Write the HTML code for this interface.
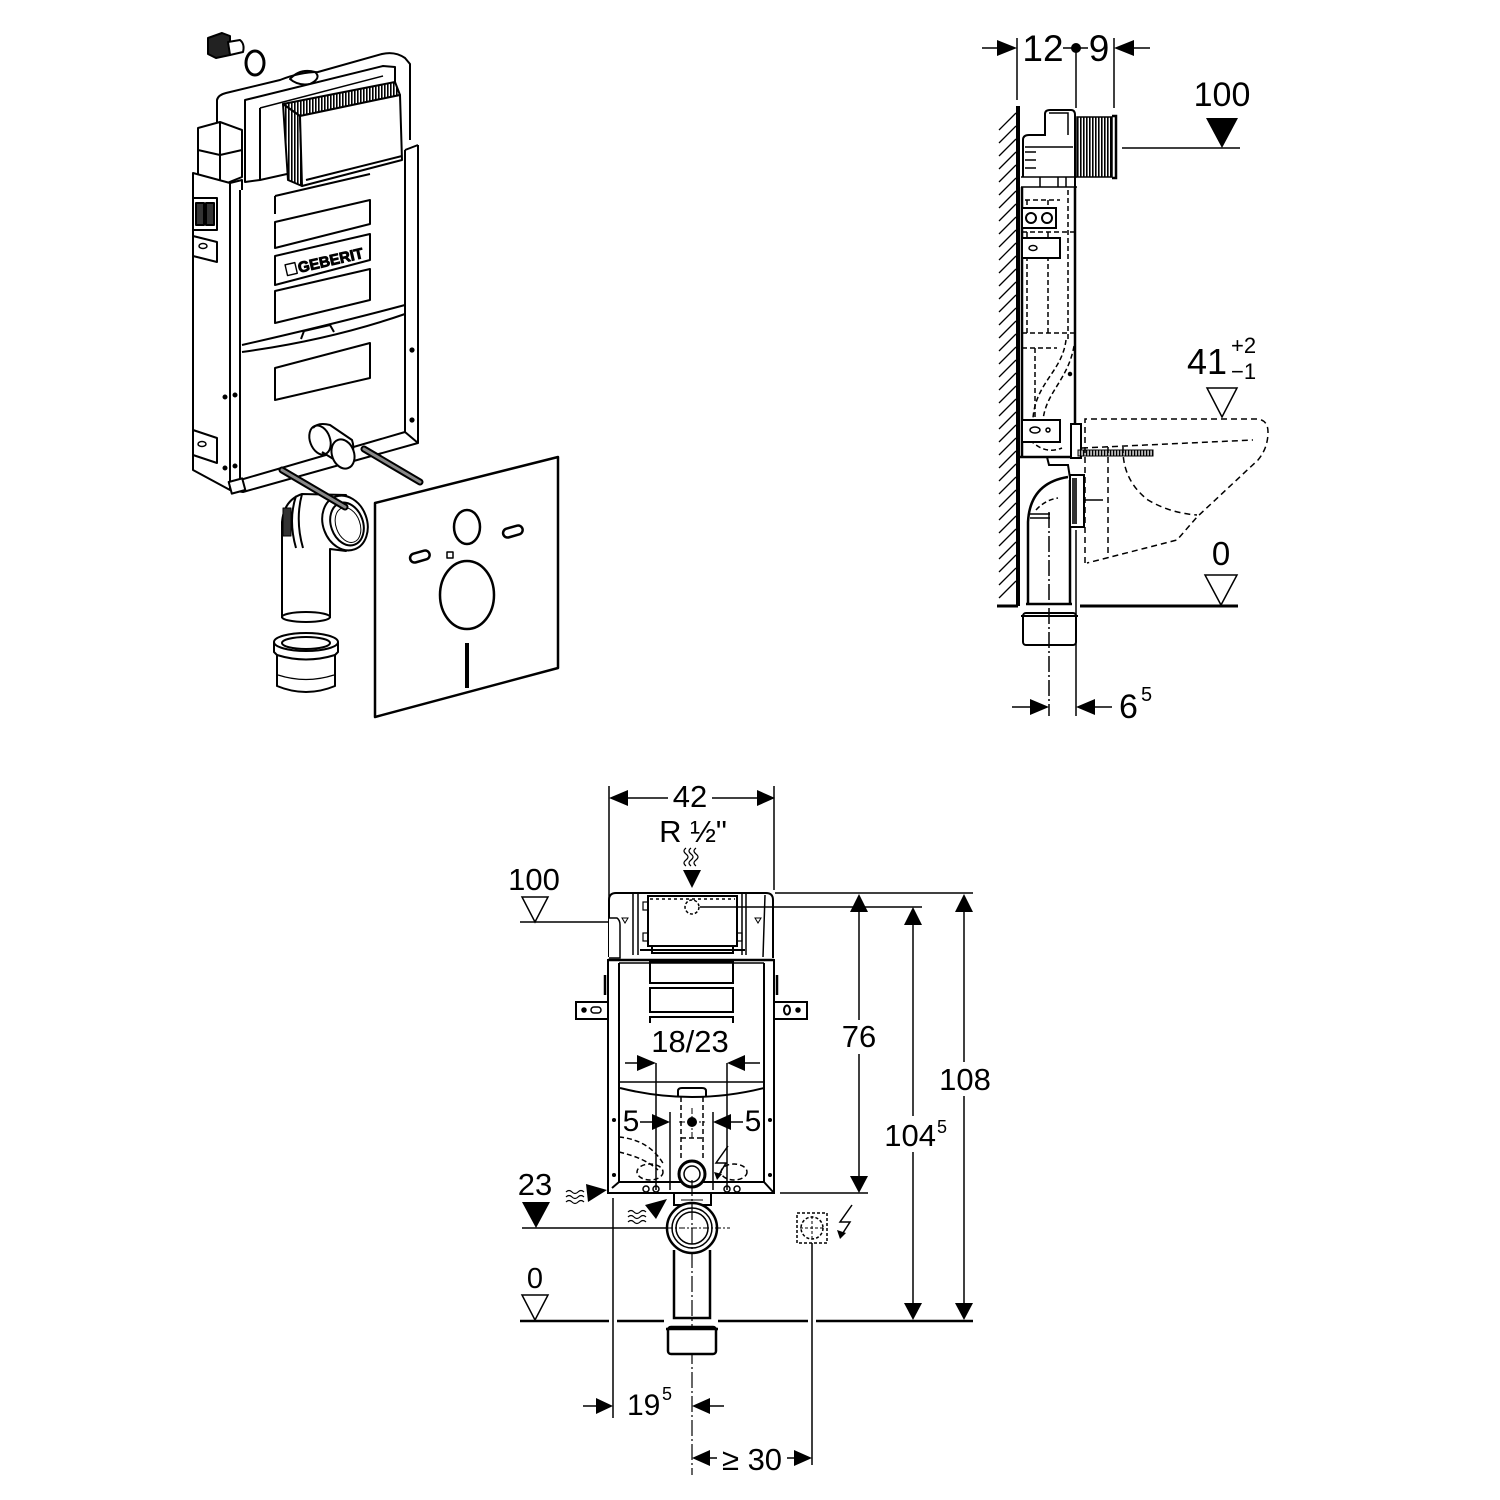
<!DOCTYPE html>
<html><head><meta charset="utf-8"><style>
html,body{margin:0;padding:0;background:#fff;}
svg{display:block;}
text{font-family:"Liberation Sans",Arial,sans-serif;fill:#000;}
</style></head><body>
<svg width="1500" height="1500" viewBox="0 0 1500 1500" xmlns="http://www.w3.org/2000/svg">
<defs>
<pattern id="vh" width="3" height="6" patternUnits="userSpaceOnUse"><rect width="3" height="6" fill="#fff"/><rect width="1.6" height="6" fill="#000"/></pattern>
<pattern id="thr" width="3" height="6" patternUnits="userSpaceOnUse"><rect width="3" height="6" fill="#bbb"/><rect width="1.2" height="6" fill="#000"/></pattern>
</defs>
<rect width="1500" height="1500" fill="#fff"/>

<!-- ================= ISOMETRIC VIEW ================= -->
<g fill="none" stroke="#000" stroke-width="2" stroke-linejoin="round">
  <!-- valve & ring -->
  <path d="M208,38 L222,33 L230,36 L230,55 L216,58 L208,54 Z" fill="#222"/>
  <path d="M228,42 L240,40 Q245,44 243,52 L230,55 Z" fill="#fff"/>
  <ellipse cx="255" cy="63" rx="9" ry="12" stroke-width="3"/>
  <!-- cistern housing -->
  <path d="M217,122 L217,100 Q218,95 226,93 L280,80 Q300,72 318,72 L382,54 Q395,51 405,58 L410,64 L410,140" fill="#fff"/>
  <path d="M290,79 Q300,68 315,72 Q322,78 310,84 Q298,86 290,79 Z"/>
  <path d="M245,100 L383,66 L395,67 L395,150 L260,180 L245,182 Z" fill="#fff"/>
  <path d="M260,108 L383,76" stroke-width="1.5"/>
  <path d="M260,108 L260,180"/>
  <!-- grille box -->
  <path d="M283,104 L395,82 L400,95 L300,116 Z" fill="url(#vh)"/>
  <path d="M283,104 L300,116 L302,186 L288,180 Z" fill="url(#vh)"/>
  <path d="M300,116 L400,95 L402,160 L302,186 Z" fill="#fff"/>
  <path d="M306,180 L402,156"/>
  <!-- left block on cistern -->
  <path d="M198,128 L220,122 L242,130 L242,177 L222,185 L198,178 Z" fill="#fff"/>
  <path d="M220,122 L220,185 M198,150 L220,155 L242,150"/>
  <!-- frame left side -->
  <path d="M193,173 L230,183 L230,490 L193,470 Z" fill="#fff"/>
  <path d="M240,190 L240,480"/>
  <path d="M230,183 L242,180 L242,190"/>
  <rect x="193" y="198" width="24" height="32" fill="#fff"/>
  <rect x="196" y="203" width="8" height="22" fill="#333"/>
  <rect x="206" y="203" width="8" height="22" fill="#333"/>
  <path d="M193,236 L217,242 L217,262 L193,256 Z" fill="#fff"/>
  <ellipse cx="203" cy="246" rx="4" ry="2.5" stroke-width="1.5"/>
  <path d="M193,430 L217,438 L217,463 L193,455 Z" fill="#fff"/>
  <ellipse cx="202" cy="444" rx="4" ry="2.5" stroke-width="1.5"/>
  <circle cx="225" cy="397" r="1.5" fill="#000"/><circle cx="235" cy="395" r="1.5" fill="#000"/>
  <circle cx="225" cy="468" r="1.5" fill="#000"/><circle cx="235" cy="466" r="1.5" fill="#000"/>
  <!-- frame front -->
  <path d="M240,480 L405,432 L418,443 L243,492 L230,490"/>
  <path d="M405,150 L405,432 M418,145 L418,443 M405,150 L418,145"/>
  <rect x="230" y="480" width="14" height="12" fill="#fff" transform="rotate(-15 237 486)"/>
  <circle cx="412" cy="350" r="1.6" fill="#000"/><circle cx="412" cy="420" r="1.6" fill="#000"/>
  <!-- front panels -->
  <path d="M275,196 L370,174 M275,196 L275,214" />
  <path d="M275,222 L370,200 L370,224 L275,248 Z"/>
  <path d="M275,256 L370,234 L370,260 L275,285 Z"/>
  <path d="M275,291 L370,269 L370,300 L275,323 Z"/>
  <path d="M242,345 Q330,325 405,305"/>
  <path d="M242,352 Q330,340 405,314"/>
  <path d="M301,339 L304,331 L330,325 L334,332"/>
  <path d="M275,368 L370,343 L370,378 L275,400 Z"/>
  <g transform="rotate(-13 320 265)">
    <rect x="286" y="257" width="10" height="11" stroke-width="1.4"/>
    <text x="298" y="268" font-size="15" font-weight="bold" fill="#fff" stroke="#000" stroke-width="0.9">GEBERIT</text>
  </g>
  <!-- pipe stub into frame -->
  <path d="M313,428 Q318,422 330,425 L352,440 Q357,455 343,465 L322,452" fill="#fff"/>
  <ellipse cx="320" cy="440" rx="10" ry="15" transform="rotate(-20 320 440)"/>
  <ellipse cx="343" cy="454" rx="11" ry="15" transform="rotate(-20 343 454)" fill="#fff"/>
  <!-- elbow -->
  <path d="M282,618 L282,522 Q284,500 302,494 L346,495 L346,551 L330,549 L330,618" fill="#fff"/>
  <path d="M296,496 Q288,520 296,548 M302,494 Q295,520 303,548"/>
  <rect x="283" y="508" width="8" height="28" fill="#333" stroke-width="1"/>
  <ellipse cx="306" cy="617" rx="24" ry="5" fill="#fff"/>
  <ellipse cx="345" cy="523" rx="22" ry="28" transform="rotate(-20 345 523)" fill="#fff"/>
  <ellipse cx="347" cy="524" rx="16" ry="22" transform="rotate(-20 347 524)"/>
  <ellipse cx="348" cy="525" rx="12" ry="18" transform="rotate(-20 348 525)" stroke-width="1"/>
  <!-- rods -->
  <path d="M282,470 L345,507" stroke="#000" stroke-width="7" stroke-linecap="round"/>
  <path d="M282,470 L345,507" stroke="#888" stroke-width="3" stroke-linecap="round"/>
  <path d="M364,449 L420,482" stroke="#000" stroke-width="7" stroke-linecap="round"/>
  <path d="M364,449 L420,482" stroke="#888" stroke-width="3" stroke-linecap="round"/>
  <!-- connector -->
  <path d="M274,642 L274,652 L277,655 L277,686 Q306,698 335,686 L335,655 L338,652 L338,642" fill="#fff"/>
  <ellipse cx="306" cy="642" rx="32" ry="9" fill="#fff"/>
  <ellipse cx="306" cy="643" rx="24" ry="6"/>
  <path d="M277,655 Q306,664 335,655"/>
  <path d="M278,675 Q306,684 334,675" stroke-width="1.2"/>
  <!-- sound mat -->
  <path d="M375,503 L558,457 L558,668 L375,717 Z" stroke-width="2.5" fill="#fff"/>
  <ellipse cx="467" cy="527" rx="13" ry="17" stroke-width="2.5"/>
  <ellipse cx="467" cy="595" rx="27" ry="34" stroke-width="2.5"/>
  <rect x="410" y="552" width="20" height="9" rx="4.5" transform="rotate(-16 420 557)" stroke-width="2.5"/>
  <rect x="503" y="527" width="20" height="9" rx="4.5" transform="rotate(-16 513 532)" stroke-width="2.5"/>
  <rect x="447" y="552" width="6" height="6" stroke-width="1.5"/>
  <path d="M467,643 L467,688" stroke-width="4"/>
</g>

<!-- ================= SIDE VIEW ================= -->
<g fill="none" stroke="#000" stroke-width="1.5">
  <!-- top dim -->
  <path d="M982,48 L998,48 M1063,48 L1088,48 M1134,48 L1150,48"/>
  <polygon points="997,40 1017,48 997,56" fill="#000" stroke="none"/>
  <polygon points="1134,40 1114,48 1134,56" fill="#000" stroke="none"/>
  <circle cx="1076" cy="48" r="5" fill="#000" stroke="none"/>
  <path d="M1017,38 L1017,100 M1076,48 L1076,108 M1114,38 L1114,108"/>
  <!-- wall -->
  <path d="M1018,106 L1018,606" stroke-width="4"/>
  <path stroke-width="1.3" d="M999,130 L1016,113 M999,143 L1016,126 M999,156 L1016,139 M999,169 L1016,152 M999,182 L1016,165 M999,195 L1016,178 M999,208 L1016,191 M999,221 L1016,204 M999,234 L1016,217 M999,247 L1016,230 M999,260 L1016,243 M999,273 L1016,256 M999,286 L1016,269 M999,299 L1016,282 M999,312 L1016,295 M999,325 L1016,308 M999,338 L1016,321 M999,351 L1016,334 M999,364 L1016,347 M999,377 L1016,360 M999,390 L1016,373 M999,403 L1016,386 M999,416 L1016,399 M999,429 L1016,412 M999,442 L1016,425 M999,455 L1016,438 M999,468 L1016,451 M999,481 L1016,464 M999,494 L1016,477 M999,507 L1016,490 M999,520 L1016,503 M999,533 L1016,516 M999,546 L1016,529 M999,559 L1016,542 M999,572 L1016,555 M999,585 L1016,568 M999,598 L1016,581"/>
  <path d="M997,606 L1018,606" stroke-width="3"/>
  <!-- cistern top -->
  <path d="M1023,177 L1023,140 Q1023,135 1029,135 L1045,135 L1045,114 Q1045,110 1050,110 L1071,110 Q1075,110 1075,115 L1075,187" fill="#fff" stroke-width="2"/>
  <path d="M1025,147 L1073,147 M1049,113 L1068,113 L1068,135 M1025,152 L1036,152 M1025,160 L1036,160 M1025,168 L1036,168"/>
  <path d="M1021,177 L1077,177 M1021,187 L1077,187 M1040,177 L1040,187 M1058,177 L1058,187 M1066,177 L1066,187" stroke-width="1.5"/>
  <rect x="1077" y="117" width="35" height="60" fill="url(#vh)" stroke-width="1.5"/>
  <path d="M1112,116 L1116,116 L1116,178 L1112,178" stroke-width="2.5"/>
  <path d="M1122,148 L1240,148"/>
  <polygon points="1206,118 1238,118 1222,148" fill="#000" stroke="none"/>
  <!-- frame -->
  <path d="M1075,187 L1075,457 M1022,187 L1022,457 M1018,457 L1077,457" stroke-width="2.5"/>
  <g stroke-dasharray="5,3">
    <path d="M1025,200 L1060,200 M1027,200 L1027,333 M1048,200 L1048,333 M1068,190 L1068,340 M1022,232 L1075,232 M1022,333 L1075,333 M1022,348 L1057,348 M1035,348 L1035,418"/>
    <path d="M1066,340 C1062,372 1036,382 1033,418"/>
    <path d="M1074,346 C1068,380 1046,392 1043,420"/>
    <path d="M1030,440 Q1045,455 1062,448"/>
  </g>
  <rect x="1022" y="208" width="34" height="20" fill="#fff" stroke-width="2"/>
  <circle cx="1031" cy="218" r="5" stroke-width="2"/><circle cx="1047" cy="218" r="5" stroke-width="2"/>
  <rect x="1022" y="238" width="38" height="20" fill="#fff" stroke-width="2"/>
  <ellipse cx="1033" cy="248" rx="4" ry="2.5"/>
  <circle cx="1070" cy="374" r="1.5" fill="#000"/>
  <rect x="1022" y="420" width="38" height="22" fill="#fff" stroke-width="2"/>
  <ellipse cx="1035" cy="430" rx="5" ry="3"/><circle cx="1048" cy="430" r="2"/>
  <rect x="1071" y="424" width="10" height="34" fill="#fff" stroke-width="2"/>
  <!-- bolt -->
  <rect x="1078" y="450" width="75" height="6" fill="url(#thr)" stroke-width="1"/>
  <!-- toilet dashed -->
  <g stroke-dasharray="6,4">
    <path d="M1085,563 L1085,419 L1257,419 Q1268,420 1268,432 Q1268,448 1258,460 L1197,517 L1177,540 L1087,563"/>
    <path d="M1082,448 L1253,440"/>
    <path d="M1123,447 Q1122,480 1148,500 Q1170,513 1197,515"/>
    <path d="M1108,447 L1108,558"/>
  </g>
  <!-- pipe & elbow -->
  <path d="M1047,457 L1049,465 L1068,465 L1070,478" stroke-width="2"/>
  <path d="M1028,604 L1028,522 Q1030,483 1068,477" stroke-width="2.5" fill="none"/>
  <path d="M1070,480 L1070,604 M1026,604 L1072,604" stroke-width="2.5"/>
  <path d="M1030,514 L1050,514 M1030,518 L1050,518" stroke-width="1.5"/>
  <path d="M1036,510 Q1045,500 1058,498" stroke-dasharray="5,3"/>
  <rect x="1070" y="475" width="14" height="52" fill="#fff" stroke-width="2"/>
  <rect x="1072" y="478" width="5" height="46" fill="#333" stroke="none"/>
  <path d="M1084,500 L1103,500"/>
  <!-- lower connector -->
  <rect x="1023" y="613" width="53" height="32" rx="3" fill="#fff" stroke-width="2"/>
  <path d="M1021,616 L1078,616" stroke-width="2"/>
  <path d="M1049,512 L1049,716" stroke-dasharray="16,3,2,3"/>
  <path d="M1076,530 L1076,716"/>
  <!-- floor -->
  <path d="M1080,606 L1238,606" stroke-width="3"/>
  <polygon points="1205,575 1237,575 1221,605" fill="#fff"/>
  <polygon points="1207,388 1237,388 1222,417" fill="#fff"/>
  <!-- bottom dim 6^5 -->
  <path d="M1012,707 L1031,707 M1094,707 L1112,707"/>
  <polygon points="1030,699 1049,707 1030,715" fill="#000" stroke="none"/>
  <polygon points="1095,699 1076,707 1095,715" fill="#000" stroke="none"/>
</g>
<text x="1043" y="61" font-size="37" text-anchor="middle">12</text>
<text x="1099" y="61" font-size="37" text-anchor="middle">9</text>
<text x="1222" y="106" font-size="34" text-anchor="middle">100</text>
<text x="1187" y="374" font-size="36">41</text>
<text x="1231" y="353" font-size="22">+2</text>
<text x="1231" y="379" font-size="22">−1</text>
<text x="1221" y="565" font-size="33" text-anchor="middle">0</text>
<text x="1119" y="718" font-size="34">6</text>
<text x="1141" y="701" font-size="20">5</text>

<!-- ================= FRONT VIEW ================= -->
<g fill="none" stroke="#000" stroke-width="1.5">
  <!-- 42 dim -->
  <path d="M609,786 L609,900 M774,786 L774,890"/>
  <path d="M627,798 L668,798 M712,798 L758,798"/>
  <polygon points="628,790 609,798 628,806" fill="#000" stroke="none"/>
  <polygon points="757,790 775,798 757,806" fill="#000" stroke="none"/>
  <!-- squiggle & inlet arrow -->
  <path d="M686,848 q-4,3 0,6 q4,3 0,6 q-4,3 0,6 M691,848 q-4,3 0,6 q4,3 0,6 q-4,3 0,6 M696,848 q-4,3 0,6 q4,3 0,6 q-4,3 0,6" stroke-width="1.2"/>
  <polygon points="683,870 701,870 692,888" fill="#000" stroke="none"/>
  <!-- 100 left -->
  <polygon points="522,897 548,897 535,922" fill="#fff"/>
  <path d="M520,922 L612,922"/>
  <!-- cistern front -->
  <path d="M609,957 L609,900 Q609,893 616,893 L766,893 Q773,893 773,900 L773,958" stroke-width="2" fill="#fff"/>
  <path d="M775,893 L973,893 M700,907 L922,907"/>
  <path d="M633,893 L633,955 M638,893 L638,955 M742,893 L742,955 M746,893 L746,955 M765,895 L763,957"/>
  <rect x="648" y="896" width="89" height="50" stroke-width="2"/>
  <path d="M650,899 L735,899" stroke-dasharray="3,3"/>
  <path d="M640,950 L745,950 M652,946 L652,953 L733,953 L733,946" stroke-width="2"/>
  <rect x="643" y="902" width="5" height="8" stroke-width="1.2"/>
  <rect x="643" y="933" width="5" height="8" stroke-width="1.2"/>
  <rect x="737" y="933" width="5" height="8" stroke-width="1.2"/>
  <circle cx="692" cy="907" r="7" stroke-dasharray="3,2"/>
  <path d="M609,918 L617,918 Q620,920 620,925 L620,958 L609,958" fill="#fff" stroke-width="1.5"/>
  <path d="M622,918 L628,918 L625,923 Z M755,918 L761,918 L758,923 Z" stroke-width="1"/>
  <!-- frame -->
  <path d="M608,960 L608,1193 L774,1193 L774,960 Z" stroke-width="2" fill="#fff"/>
  <path d="M608,960 L774,960" stroke-width="2.5"/>
  <path d="M619,963 L619,1182 L764,1182 L764,963 M764,1182 L774,1193 M619,1182 L612,1188" stroke-width="2"/>
  <path d="M619,963 L764,963" stroke-width="1.5"/>
  <path d="M605,975 L605,995 M777,975 L777,995" stroke-width="2.5"/>
  <rect x="576" y="1002" width="32" height="17" fill="#fff" stroke-width="2"/>
  <circle cx="584" cy="1010" r="2" fill="#000"/><rect x="591" y="1007" width="10" height="6" rx="3" stroke-width="1.5"/>
  <rect x="774" y="1002" width="33" height="17" fill="#fff" stroke-width="2"/>
  <ellipse cx="787" cy="1010" rx="3" ry="4.5" stroke-width="2"/><circle cx="798" cy="1010" r="2" fill="#000"/>
  <rect x="650" y="962" width="83" height="21" stroke-width="2"/>
  <rect x="650" y="988" width="83" height="24" stroke-width="2"/>
  <path d="M650,1023 L650,1017 L733,1017 L733,1023" stroke-width="2"/>
  <path d="M619,1082 L764,1082"/>
  <path d="M620,1088 Q692,1106 764,1088" stroke-width="2"/>
  <path d="M678,1097 L678,1091 Q678,1088 682,1088 L702,1088 Q706,1088 706,1091 L706,1097" stroke-width="2"/>
  <circle cx="614" cy="1120" r="1.3" fill="#000"/><circle cx="770" cy="1120" r="1.3" fill="#000"/>
  <circle cx="614" cy="1175" r="1.3" fill="#000"/><circle cx="770" cy="1175" r="1.3" fill="#000"/>
  <!-- 18/23 dim -->
  <path d="M625,1063 L638,1063 M745,1063 L760,1063"/>
  <polygon points="637,1055 656,1063 637,1071" fill="#000" stroke="none"/>
  <polygon points="745,1055 727,1063 745,1071" fill="#000" stroke="none"/>
  <path d="M656,1063 L656,1190 M727,1063 L727,1190 M670,1112 L670,1190 M713,1112 L713,1190"/>
  <!-- 5 dims -->
  <path d="M640,1122 L653,1122 M731,1122 L743,1122"/>
  <polygon points="652,1114 670,1122 652,1130" fill="#000" stroke="none"/>
  <polygon points="731,1114 713,1122 731,1130" fill="#000" stroke="none"/>
  <circle cx="692" cy="1122" r="5" fill="#000" stroke="none"/>
  <path d="M679,1122 L705,1122 M692,1108 L692,1140" stroke-dasharray="6,2,2,2" stroke-width="1"/>
  <g stroke-dasharray="5,3">
    <path d="M681,1097 L681,1160 M703,1097 L703,1160 M681,1138 L703,1138"/>
    <path d="M619,1137 Q650,1140 664,1165"/>
    <path d="M619,1152 Q645,1158 658,1170"/>
    <ellipse cx="650" cy="1172" rx="13" ry="8"/>
    <ellipse cx="734" cy="1172" rx="13" ry="8"/>
  </g>
  <circle cx="692" cy="1174" r="13" stroke-width="3" fill="#fff"/>
  <circle cx="692" cy="1174" r="8" stroke-width="1.5"/>
  <circle cx="646" cy="1189" r="3"/><circle cx="656" cy="1189" r="3"/>
  <circle cx="727" cy="1189" r="3"/><circle cx="737" cy="1189" r="3"/>
  <path d="M728,1146 L716,1163 L726,1163 L717,1178" stroke-width="1.5"/>
  <polygon points="714,1172 717,1180 722,1174" fill="#000" stroke="none"/>
  <!-- below frame: elbow -->
  <rect x="674" y="1193" width="37" height="12" stroke-width="2" fill="#fff"/>
  <path d="M681,1200 L703,1200" stroke-width="1"/>
  <circle cx="692" cy="1228" r="25" stroke-width="2.5" fill="#fff"/>
  <circle cx="692" cy="1228" r="20" stroke-width="1.5"/>
  <circle cx="692" cy="1228" r="16" stroke-width="1.5"/>
  <path d="M674,1250 L674,1318 L710,1318 L710,1250" stroke-width="2.5"/>
  <path d="M655,1228 L730,1228" stroke-dasharray="6,2,2,2" stroke-width="1"/>
  <path d="M692,1180 L692,1475" stroke-dasharray="16,3,2,3" stroke-width="1.2"/>
  <rect x="668" y="1327" width="48" height="27" rx="3" stroke-width="2.5" fill="#fff"/>
  <path d="M666,1329 L718,1329" stroke-width="2.5"/>
  <!-- 23 -->
  <polygon points="522,1202 550,1202 536,1228" fill="#000" stroke="none"/>
  <path d="M522,1228 L667,1228"/>
  <path d="M566,1192 q3,-3 6,0 q3,3 6,0 q3,-3 6,0 M566,1197 q3,-3 6,0 q3,3 6,0 q3,-3 6,0 M566,1202 q3,-3 6,0 q3,3 6,0 q3,-3 6,0" stroke-width="1.2"/>
  <polygon points="586,1184 607,1190 588,1202" fill="#000" stroke="none"/>
  <path d="M628,1212 q3,-3 6,0 q3,3 6,0 q3,-3 6,0 M628,1217 q3,-3 6,0 q3,3 6,0 q3,-3 6,0 M628,1222 q3,-3 6,0 q3,3 6,0 q3,-3 6,0" stroke-width="1.2"/>
  <polygon points="645,1205 667,1199 656,1219" fill="#000" stroke="none"/>
  <path d="M613,1198 L613,1418"/>
  <!-- floor -->
  <path d="M520,1321 L609,1321 M617,1321 L664,1321 M718,1321 L808,1321 M816,1321 L973,1321" stroke-width="2.5"/>
  <polygon points="522,1295 548,1295 535,1320" fill="#fff"/>
  <!-- electrical box -->
  <rect x="797" y="1213" width="30" height="30" stroke-dasharray="3,2"/>
  <circle cx="812" cy="1228" r="11" stroke-dasharray="3,2"/>
  <path d="M800,1228 L824,1228 M812,1216 L812,1240" stroke-dasharray="3,2" stroke-width="1"/>
  <path d="M852,1205 L840,1222 L850,1222 L841,1236" stroke-width="1.5"/>
  <polygon points="837,1230 840,1239 846,1233" fill="#000" stroke="none"/>
  <path d="M812,1243 L812,1465"/>
  <!-- right dims -->
  <path d="M780,1193 L868,1193"/>
  <path d="M859,911 L859,1020 M859,1054 L859,1177"/>
  <polygon points="850,912 859,894 868,912" fill="#000" stroke="none"/>
  <polygon points="850,1176 859,1193 868,1176" fill="#000" stroke="none"/>
  <path d="M913,924 L913,1116 M913,1152 L913,1304"/>
  <polygon points="904,925 913,907 922,925" fill="#000" stroke="none"/>
  <polygon points="904,1303 913,1320 922,1303" fill="#000" stroke="none"/>
  <path d="M964,911 L964,1062 M964,1096 L964,1304"/>
  <polygon points="955,912 964,894 973,912" fill="#000" stroke="none"/>
  <polygon points="955,1303 964,1320 973,1303" fill="#000" stroke="none"/>
  <!-- 19^5 -->
  <path d="M583,1406 L597,1406 M709,1406 L724,1406"/>
  <polygon points="596,1398 613,1406 596,1414" fill="#000" stroke="none"/>
  <polygon points="710,1398 692,1406 710,1414" fill="#000" stroke="none"/>
  <!-- >= 30 -->
  <path d="M709,1458 L717,1458 M787,1458 L795,1458"/>
  <polygon points="710,1450 692,1458 710,1466" fill="#000" stroke="none"/>
  <polygon points="794,1450 812,1458 794,1466" fill="#000" stroke="none"/>
</g>
<text x="690" y="807" font-size="31" text-anchor="middle">42</text>
<text x="693" y="842" font-size="31" text-anchor="middle">R ½"</text>
<text x="534" y="890" font-size="31" text-anchor="middle">100</text>
<text x="690" y="1052" font-size="31" text-anchor="middle">18/23</text>
<text x="631" y="1131" font-size="30" text-anchor="middle">5</text>
<text x="753" y="1131" font-size="30" text-anchor="middle">5</text>
<text x="535" y="1195" font-size="31" text-anchor="middle">23</text>
<text x="535" y="1288" font-size="29" text-anchor="middle">0</text>
<text x="859" y="1047" font-size="31" text-anchor="middle">76</text>
<text x="936" y="1146" font-size="31" text-anchor="end">104</text>
<text x="937" y="1133" font-size="18">5</text>
<text x="965" y="1090" font-size="31" text-anchor="middle">108</text>
<text x="627" y="1415" font-size="30">19</text>
<text x="662" y="1400" font-size="18">5</text>
<text x="752" y="1470" font-size="31" text-anchor="middle">≥ 30</text>
</svg>
</body></html>
